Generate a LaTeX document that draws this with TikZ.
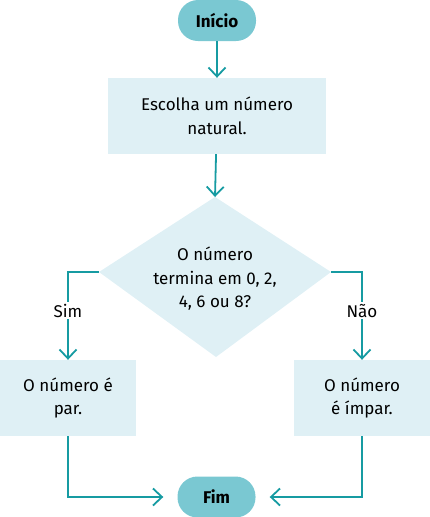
\documentclass[tikz,border=0pt]{standalone}
\usepackage{fontspec}
\setmainfont{Fira Sans}
\definecolor{TermFill}{RGB}{122,200,210}
\definecolor{StepFill}{RGB}{223,240,245}
\definecolor{FlowLine}{RGB}{22,155,162}
\usetikzlibrary{arrows.meta}
\tikzset{
  term/.style = {fill = TermFill, rounded corners = 20pt, minimum width = 78pt,
    minimum height = 41pt, inner sep = 0pt, font = \fontsize{17}{20}\selectfont\bfseries},
  stepbox/.style = {fill = StepFill, inner sep = 0pt, align = center,
    font = \fontsize{17}{23.5}\selectfont},
  flow/.style = {draw = FlowLine, line width = 1.8pt,
    -{Straight Barb[length = 9pt, width = 17pt, line width = 1.8pt]}},
  answer/.style = {fill = white, inner sep = 2pt, font = \fontsize{17}{20}\selectfont}
}

\begin{document}
\begin{tikzpicture}[x = 1pt, y = -1pt]
\useasboundingbox (0, 0) rectangle (430, 517);

\node[term] (start) at (217, 20.5) {Início};
\node[stepbox, minimum width = 218pt, minimum height = 76pt] (choose) at (217, 116)
    {Escolha um número\\natural.};

\coordinate (T) at (215, 197);
\coordinate (L) at (99, 272);
\coordinate (B) at (216, 357);
\coordinate (R) at (331, 272);
\fill[StepFill] (T) -- (R) -- (B) -- (L) -- cycle;
\node[stepbox, fill = none] (test) at (215, 279) {O número\\termina em 0, 2,\\4, 6 ou 8?};

\node[stepbox, minimum width = 136pt, minimum height = 76pt] (even) at (68, 398)
    {O número é\\par.};
\node[stepbox, minimum width = 136pt, minimum height = 76pt] (odd) at (362, 398)
    {O número\\é ímpar.};
\node[term] (stop) at (216.5, 497) {Fim};

\draw[flow] (start) -- (choose);
\draw[flow] (choose) -- (T);
\draw[flow] (L) -| node[answer, pos = 0.72] {Sim} (even);
\draw[flow] (R) -| node[answer, pos = 0.72] {Não} (odd);
\draw[flow, shorten > = 14pt] (even) |- (stop);
\draw[flow, shorten > = 14pt] (odd) |- (stop);

\end{tikzpicture}
\end{document}
